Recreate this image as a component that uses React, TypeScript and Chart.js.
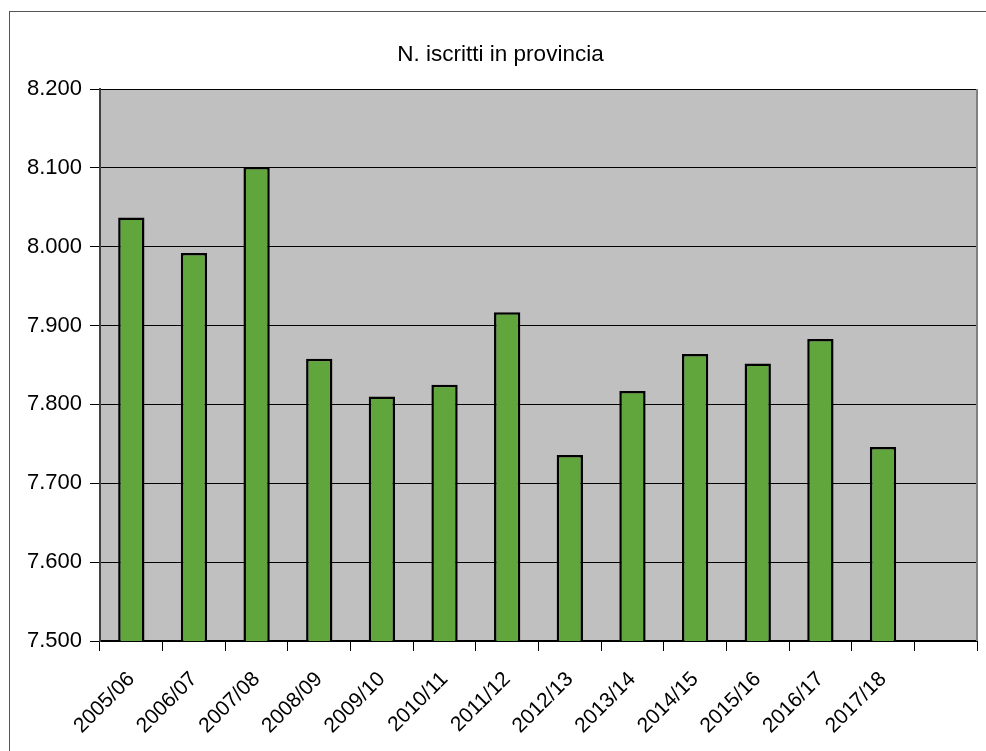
import React, { useEffect, useRef } from "react";
import { Chart, registerables } from "chart.js";

Chart.register(...registerables);

const categories = [
  "2005/06", "2006/07", "2007/08", "2008/09", "2009/10", "2010/11", "2011/12",
  "2012/13", "2013/14", "2014/15", "2015/16", "2016/17", "2017/18", "",
];
const iscritti = [8037, 7992, 8101, 7858, 7810, 7825, 7917, 7736, 7817, 7864, 7852, 7883, 7746, null];
const yMin = 7500;
const yMax = 8200;
const yStep = 100;
const titleText = "N. iscritti in provincia";

const FONT = "'Liberation Sans', Arial, sans-serif";

function fmt(v: number): string {
  const th = Math.floor(v / 1000);
  const rest = Math.round(v % 1000);
  return th > 0 ? th + "." + String(rest).padStart(3, "0") : String(rest);
}

const framePlugin = {
  id: "frame",
  beforeDraw(chart: any) {
    const { ctx, chartArea } = chart;
    ctx.save();
    ctx.fillStyle = "#ffffff";
    ctx.fillRect(0, 0, chart.width, chart.height);
    ctx.fillStyle = "#c0c0c0";
    ctx.fillRect(chartArea.left, chartArea.top, chartArea.right - chartArea.left, chartArea.bottom - chartArea.top);
    ctx.restore();
  },
  afterDraw(chart: any) {
    const { ctx, chartArea } = chart;
    ctx.save();
    ctx.strokeStyle = "#808080";
    ctx.lineWidth = 2;
    ctx.beginPath();
    ctx.moveTo(chartArea.right, chartArea.top);
    ctx.lineTo(chartArea.right, chartArea.bottom);
    ctx.stroke();
    ctx.strokeStyle = "#555555";
    ctx.lineWidth = 1;
    ctx.strokeRect(9.5, 11.5, 3000, 3000);
    ctx.restore();
  },
};

export default function App() {
  const ref = useRef<HTMLCanvasElement | null>(null);
  useEffect(() => {
    if (!ref.current) return;
    const chart = new Chart(ref.current, {
      type: "bar",
      data: {
        labels: categories,
        datasets: [
          {
            data: iscritti as any,
            backgroundColor: "#60a63c",
            borderColor: "#000000",
            borderWidth: 2.5,
            borderSkipped: false,
            categoryPercentage: 1,
            barPercentage: 0.42,
          },
        ],
      },
      options: {
        responsive: false,
        animation: false,
        devicePixelRatio: 1,
        layout: { padding: { left: 24, right: 9, top: 0, bottom: 0 } },
        plugins: {
          legend: { display: false },
          tooltip: { enabled: false },
          title: {
            display: true,
            text: titleText,
            color: "#000000",
            font: { family: FONT, size: 22.5, weight: "normal", lineHeight: 1.2 },
            padding: { top: 41, bottom: 21 },
          },
        },
        scales: {
          x: {
            offset: true,
            grid: {
              offset: true,
              drawOnChartArea: false,
              drawTicks: true,
              tickLength: 10,
              color: "#000000",
              lineWidth: 1,
            },
            border: { display: true, color: "#000000", width: 2 },
            ticks: {
              color: "#000000",
              font: { family: FONT, size: 21 },
              minRotation: 45,
              maxRotation: 45,
              autoSkip: false,
              padding: 16,
            },
            afterFit(scale: any) {
              scale.height = 110;
            },
          },
          y: {
            min: yMin,
            max: yMax,
            grid: {
              color: "#000000",
              lineWidth: 1,
              drawTicks: true,
              tickLength: 10,
            },
            border: { display: true, color: "#404040", width: 2 },
            ticks: {
              stepSize: yStep,
              color: "#000000",
              font: { family: FONT, size: 22 },
              padding: 8,
              callback: (v: any) => fmt(Number(v)),
            },
            afterFit(scale: any) {
              scale.width = 76;
            },
          },
        },
      },
      plugins: [framePlugin],
    });
    return () => chart.destroy();
  }, []);
  return (
    <div style={{ position: "fixed", left: 0, top: 0, width: 986, height: 751, background: "#fff" }}>
      <canvas ref={ref} width={986} height={751} style={{ width: 986, height: 751, display: "block" }} />
    </div>
  );
}
